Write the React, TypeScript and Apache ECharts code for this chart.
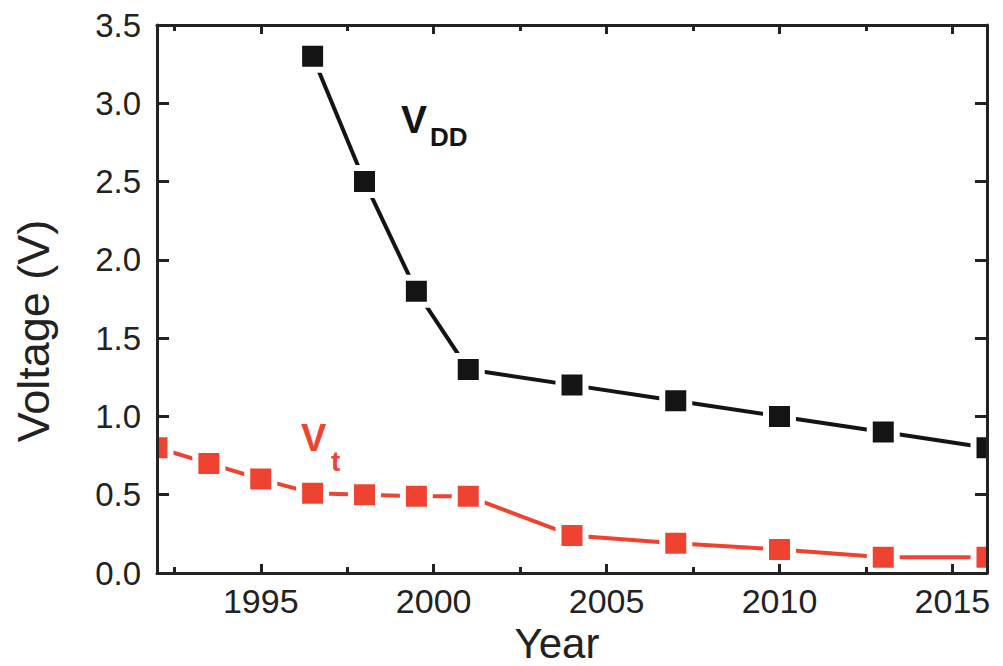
import React, { useEffect, useRef } from "react";
import * as echarts from "echarts";

// Supply voltage and threshold voltage by year
const vddYears = [1996.5, 1998, 1999.5, 2001, 2004, 2007, 2010, 2013, 2016];
const vddValues = [3.3, 2.5, 1.8, 1.3, 1.2, 1.1, 1.0, 0.9, 0.8];

const vtYears = [1992, 1993.5, 1995, 1996.5, 1998, 1999.5, 2001, 2004, 2007, 2010, 2013, 2016];
const vtValues = [0.8, 0.7, 0.6, 0.51, 0.5, 0.49, 0.49, 0.24, 0.19, 0.15, 0.1, 0.1];

const yearMajorTicks = [1995, 2000, 2005, 2010, 2015];
const yearMinorTicks = [1992.5, 1997.5, 2002.5, 2007.5, 2012.5];

const BLACK = "#141414";
const RED = "#EE4330";
const AXIS = "#222222";
const FONT = "Liberation Sans, Arial, sans-serif";

const pairs = (xs: number[], ys: number[]) => xs.map((x, i) => [x, ys[i]]);

// Square markers with a white rim so the connecting line stops short of each marker
const markerSeries = (name: string, data: number[][], color: string) => ({
  type: "custom",
  name,
  data,
  clip: true,
  z: 3,
  encode: { x: 0, y: 1 },
  renderItem: (_params: any, api: any) => {
    const p = api.coord([api.value(0), api.value(1)]);
    const s = 27;
    return {
      type: "rect",
      shape: { x: p[0] - s / 2, y: p[1] - s / 2, width: s, height: s },
      style: { fill: color, stroke: "#ffffff", lineWidth: 6 },
    };
  },
});

export default function App() {
  const ref = useRef<HTMLDivElement>(null);

  useEffect(() => {
    if (!ref.current) return;
    const chart = echarts.init(ref.current, undefined, { renderer: "svg" });

    const axisLine = { show: true, lineStyle: { color: AXIS, width: 3 } };
    const baseX = { type: "value", min: 1992, max: 2016, splitLine: { show: false }, z: 10 };

    chart.setOption({
      animation: false,
      backgroundColor: "#ffffff",
      grid: { left: 157, right: 16, top: 25, bottom: 93, containLabel: false, outerBoundsMode: "none" },
      xAxis: [
        {
          ...baseX,
          position: "bottom",
          axisLine,
          axisTick: { show: true, inside: true, length: 9, lineStyle: { color: AXIS, width: 3 }, customValues: yearMajorTicks },
          axisLabel: {
            show: true,
            customValues: yearMajorTicks,
            fontSize: 34,
            color: AXIS,
            fontFamily: FONT,
            margin: 11,
            formatter: (v: number) => String(v),
          },
          name: "Year",
          nameLocation: "middle",
          nameGap: 49,
          nameTextStyle: { fontSize: 42, color: AXIS, fontFamily: FONT, padding: [0, 30, 0, 0] },
        },
        {
          ...baseX,
          position: "bottom",
          axisLine: { show: false },
          axisTick: { show: true, inside: true, length: 6, lineStyle: { color: AXIS, width: 3 }, customValues: yearMinorTicks },
          axisLabel: { show: false },
        },
        {
          ...baseX,
          position: "top",
          axisLine,
          axisTick: { show: true, inside: true, length: 9, lineStyle: { color: AXIS, width: 3 }, customValues: yearMajorTicks },
          axisLabel: { show: false },
        },
        {
          ...baseX,
          position: "top",
          axisLine: { show: false },
          axisTick: { show: true, inside: true, length: 6, lineStyle: { color: AXIS, width: 3 }, customValues: yearMinorTicks },
          axisLabel: { show: false },
        },
      ],
      yAxis: [
        {
          type: "value",
          position: "left",
          min: 0,
          max: 3.5,
          interval: 0.5,
          z: 10,
          splitLine: { show: false },
          axisLine,
          axisTick: { show: true, inside: true, length: 12, lineStyle: { color: AXIS, width: 3 } },
          axisLabel: {
            fontSize: 33,
            color: AXIS,
            fontFamily: FONT,
            margin: 16,
            formatter: (v: number) => v.toFixed(1),
          },
          name: "Voltage (V)",
          nameLocation: "middle",
          nameRotate: 90,
          nameGap: 101,
          nameTextStyle: { fontSize: 45, color: AXIS, fontFamily: FONT, padding: [0, 64, 0, 0] },
        },
        {
          type: "value",
          position: "right",
          min: 0,
          max: 3.5,
          interval: 0.5,
          z: 10,
          splitLine: { show: false },
          axisLine,
          axisTick: { show: true, inside: true, length: 12, lineStyle: { color: AXIS, width: 3 } },
          axisLabel: { show: false },
        },
      ],
      series: [
        {
          type: "line",
          name: "VDD",
          data: pairs(vddYears, vddValues),
          symbol: "none",
          lineStyle: { color: BLACK, width: 4 },
          z: 2,
        },
        {
          type: "line",
          name: "Vt",
          data: pairs(vtYears, vtValues),
          symbol: "none",
          lineStyle: { color: RED, width: 4 },
          z: 2,
        },
        markerSeries("VDD markers", pairs(vddYears, vddValues), BLACK),
        markerSeries("Vt markers", pairs(vtYears, vtValues), RED),
      ],
      graphic: [
        {
          type: "text",
          x: 401,
          y: 119,
          style: { text: "V", fontSize: 39, fontWeight: "bold", fontFamily: FONT, fill: BLACK, textVerticalAlign: "middle" },
        },
        {
          type: "text",
          x: 430,
          y: 137,
          style: { text: "DD", fontSize: 26, fontWeight: "bold", fontFamily: FONT, fill: BLACK, textVerticalAlign: "middle" },
        },
        {
          type: "text",
          x: 301,
          y: 438,
          style: { text: "V", fontSize: 38, fontWeight: "bold", fontFamily: FONT, fill: RED, textVerticalAlign: "middle" },
        },
        {
          type: "text",
          x: 331,
          y: 461,
          style: { text: "t", fontSize: 28, fontWeight: "bold", fontFamily: FONT, fill: RED, textVerticalAlign: "middle" },
        },
      ],
    });

    return () => chart.dispose();
  }, []);

  return (
    <div
      ref={ref}
      style={{ position: "fixed", left: 0, top: 0, width: 1003, height: 666, background: "#fff" }}
    />
  );
}
